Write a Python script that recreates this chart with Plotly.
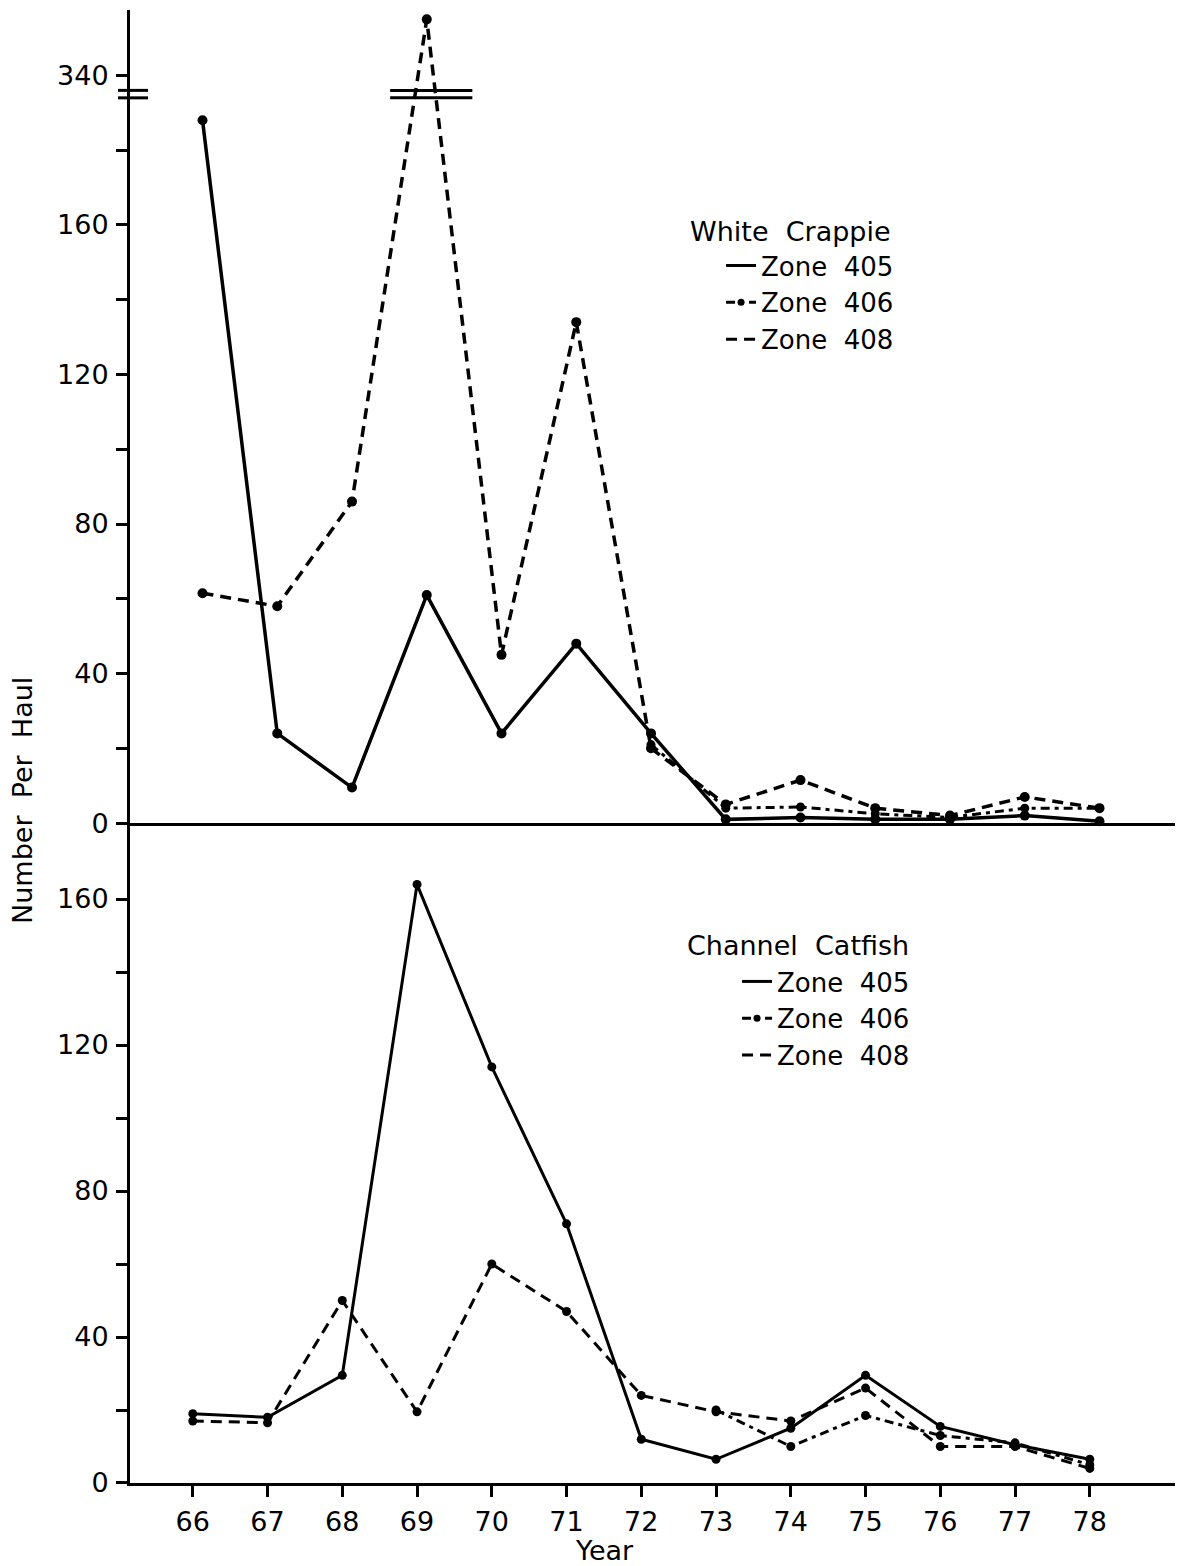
import plotly.graph_objects as go

# ---------------- data ----------------
years = [66, 67, 68, 69, 70, 71, 72, 73, 74, 75, 76, 77, 78]
year_labels = [str(y) for y in years]

# White Crappie (top panel), number per haul
wc_zone405 = [188, 24, 9.5, 61, 24, 48, 24, 1, 1.5, 1, 1, 2, 0.5]
wc_zone406 = [None, None, None, None, None, None, 21, 4, 4.3, 2.5, 1.5, 4, 4]
wc_zone408 = [61.5, 58, 86, 355, 45, 134, 20, 5, 11.5, 4, 2, 7, 4]

# Channel Catfish (bottom panel), number per haul
cc_zone405 = [19, 18, 29.5, 164, 114, 71, 12, 6.5, 15, 29.5, 15.5, 10.5, 6.5]
cc_zone406 = [None, None, None, None, None, None, None, 20, 10, 18.5, 13, 11, 5]
cc_zone408 = [17, 16.5, 50, 19.5, 60, 47, 24, 19.5, 17, 26, 10, 10, 4]

zone_names = ["Zone\u00a0\u00a0405", "Zone\u00a0\u00a0406", "Zone\u00a0\u00a0408"]

# top-panel broken axis: values above the break are drawn shifted down
BREAK_AT = 200          # display position where the upper segment (340) starts
UPPER_START = 340       # value shown at that position
top_ticks = [0, 40, 80, 120, 160, 200]
top_ticktext = ["0", "40", "80", "120", "160", "340"]
bottom_ticks = [0, 40, 80, 120, 160]


def broken(vals):
    out = []
    for v in vals:
        if v is None:
            out.append(None)
        elif v > BREAK_AT:
            out.append(v - (UPPER_START - BREAK_AT))
        else:
            out.append(v)
    return out


FONT = "DejaVu Sans"
FS = 27
BLACK = "black"

fig = go.Figure()

dash408 = "11px,7px"
dash406 = "9px,5px,4px,5px"

# ---- top panel (White Crappie) ----
fig.add_trace(go.Scatter(x=years, y=broken(wc_zone405), mode="lines+markers",
                         line=dict(color=BLACK, width=3.5), marker=dict(size=10, color=BLACK),
                         xaxis="x2", yaxis="y2", showlegend=False, cliponaxis=False))
fig.add_trace(go.Scatter(x=years, y=broken(wc_zone406), mode="lines+markers",
                         line=dict(color=BLACK, width=3, dash=dash406), marker=dict(size=9, color=BLACK),
                         xaxis="x2", yaxis="y2", showlegend=False, cliponaxis=False))
fig.add_trace(go.Scatter(x=years, y=broken(wc_zone408), mode="lines+markers",
                         line=dict(color=BLACK, width=3.5, dash=dash408), marker=dict(size=10, color=BLACK),
                         xaxis="x2", yaxis="y2", showlegend=False, cliponaxis=False))

# ---- bottom panel (Channel Catfish) ----
fig.add_trace(go.Scatter(x=years, y=cc_zone405, mode="lines+markers",
                         line=dict(color=BLACK, width=3), marker=dict(size=9, color=BLACK),
                         xaxis="x", yaxis="y", showlegend=False, cliponaxis=False))
fig.add_trace(go.Scatter(x=years, y=cc_zone406, mode="lines+markers",
                         line=dict(color=BLACK, width=3, dash=dash406), marker=dict(size=9, color=BLACK),
                         xaxis="x", yaxis="y", showlegend=False, cliponaxis=False))
fig.add_trace(go.Scatter(x=years, y=cc_zone408, mode="lines+markers",
                         line=dict(color=BLACK, width=3, dash=dash408), marker=dict(size=9, color=BLACK),
                         xaxis="x", yaxis="y", showlegend=False, cliponaxis=False))

# ---- legend entries ----
styles = [(None, "lines"), (dash406, "lines+markers"), (dash408, "lines")]
for lg in ["legend", "legend2"]:
    for name, (dash, mode) in zip(zone_names, styles):
        fig.add_trace(go.Scatter(x=[None], y=[None], mode=mode, name=name,
                                 line=dict(color=BLACK, width=3, dash=dash),
                                 marker=dict(size=7, color=BLACK),
                                 xaxis="x", yaxis="y", legend=lg, showlegend=True))

axis_common = dict(showline=True, linecolor=BLACK, linewidth=3, showgrid=False, zeroline=False,
                   ticks="outside", ticklen=11, tickwidth=2.5, tickcolor=BLACK, automargin=False,
                   tickfont=dict(family=FONT, size=FS, color=BLACK))

x_range = [65.16, 79.14]
x_shift = 0.13
legend_font = dict(family=FONT, size=FS, color=BLACK)
legend_item_font = dict(family=FONT, size=26, color=BLACK)

fig.update_layout(
    width=1187, height=1566,
    margin=dict(l=122, r=20, t=2, b=91),
    paper_bgcolor="white", plot_bgcolor="white",
    font=dict(family=FONT, color=BLACK),
    xaxis=dict(domain=[0, 1], anchor="y", range=x_range, tickmode="array",
               tickvals=years, ticktext=year_labels, ticklabelstandoff=2, **axis_common),
    yaxis=dict(domain=[0, 0.448], anchor="x", range=[0, 180.8], tickmode="array",
               tickvals=bottom_ticks, ticklabelstandoff=2,
               minor=dict(tickvals=[20, 60, 100, 140], ticks="outside", ticklen=11,
                          tickwidth=2.5, tickcolor=BLACK),
               **axis_common),
    xaxis2=dict(domain=[0, 1], anchor="y2", range=[x_range[0] - x_shift, x_range[1] - x_shift],
                showline=True, linecolor=BLACK, linewidth=3, showgrid=False, zeroline=False,
                showticklabels=False, ticks=""),
    yaxis2=dict(domain=[0.448, 1], anchor="x2", range=[0, 217.5], tickmode="array",
                tickvals=top_ticks, ticktext=top_ticktext, ticklabelstandoff=2,
                minor=dict(tickvals=[20, 60, 100, 140, 180], ticks="outside", ticklen=11,
                           tickwidth=2.5, tickcolor=BLACK),
                **axis_common),
    legend=dict(x=0.5656, y=0.8424, xanchor="left", yanchor="top",
                font=legend_item_font, bgcolor="rgba(0,0,0,0)", tracegroupgap=0),
    legend2=dict(x=0.5809, y=0.3564, xanchor="left", yanchor="top",
                 font=legend_item_font, bgcolor="rgba(0,0,0,0)", tracegroupgap=0),
)

# legend titles
fig.add_annotation(text="White\u00a0\u00a0Crappie", xref="paper", yref="paper",
                   x=(688 - 130) / 1045, y=(1483 - 232) / 1473, xanchor="left", yanchor="middle",
                   showarrow=False, font=legend_font)
fig.add_annotation(text="Channel\u00a0\u00a0Catfish", xref="paper", yref="paper",
                   x=(685 - 130) / 1045, y=(1483 - 945) / 1473, xanchor="left", yanchor="middle",
                   showarrow=False, font=legend_font)

# axis titles
fig.add_annotation(text="Number\u00a0\u00a0Per\u00a0\u00a0Haul", xref="paper", yref="paper",
                   x=-0.1024, y=0.4637, xanchor="center", yanchor="middle",
                   textangle=-90, showarrow=False, font=dict(family=FONT, size=FS, color=BLACK))
fig.add_annotation(text="Year", xref="paper", yref="paper", x=0.4545, y=-0.0455,
                   xanchor="center", yanchor="middle",
                   showarrow=False, font=dict(family=FONT, size=FS, color=BLACK))

# axis-break marks (double strokes) on the y axis and on the 1969 peak
for yv in [194.0, 196.0]:
    fig.add_shape(type="line", xref="paper", yref="y2", x0=-0.0115, x1=0.0172, y0=yv, y1=yv,
                  line=dict(color=BLACK, width=3))
    fig.add_shape(type="line", xref="x2", yref="y2", x0=68.51, x1=69.61, y0=yv, y1=yv,
                  line=dict(color=BLACK, width=3))

fig.write_html("out.html")
